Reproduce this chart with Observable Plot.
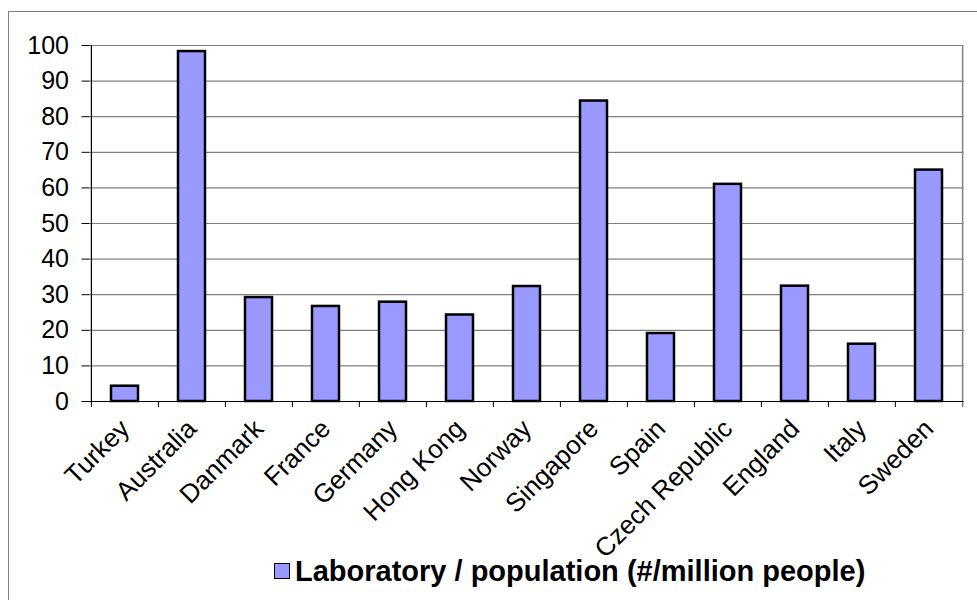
<!DOCTYPE html>
<html>
<head>
<meta charset="utf-8">
<script src="https://cdn.jsdelivr.net/npm/d3@7"></script>
<script src="https://cdn.jsdelivr.net/npm/@observablehq/plot@0.6"></script>
<style>
  html, body { margin: 0; padding: 0; background: #fff; width: 977px; height: 600px; overflow: hidden; }
  #frame { position: absolute; left: 8px; top: 11px; width: 1100px; height: 700px;
           border-left: 1px solid #7f7f7f; border-top: 1px solid #7f7f7f; }
  #chart { position: absolute; left: 0; top: 0; }
  #legend { position: absolute; left: 274px; top: 555px; height: 32px;
            font-family: "Liberation Sans", Arial, sans-serif; font-weight: bold; font-size: 29px;
            display: flex; align-items: center; color: #000; white-space: nowrap; }
  #legend .sw { width: 14px; height: 14px; background: #9999ff; border: 1.5px solid #000; margin-right: 5px; }
</style>
</head>
<body>
<div id="frame"></div>
<div id="chart"></div>
<div id="legend"><span class="sw"></span><span>Laboratory / population (#/million people)</span></div>
<script>
const categories = ["Turkey","Australia","Danmark","France","Germany","Hong Kong","Norway","Singapore","Spain","Czech Republic","England","Italy","Sweden"];
const values = [4.3, 98.3, 29.2, 26.7, 27.9, 24.3, 32.3, 84.4, 19.1, 61.0, 32.4, 16.1, 65.0];
const yTicks = [0, 10, 20, 30, 40, 50, 60, 70, 80, 90, 100];
const seriesName = "Laboratory / population (#/million people)";

const data = categories.map((c, i) => ({country: c, value: values[i]}));

const W = 977, H = 545;
const mL = 89.5, mR = 13.5, mT = 45, mB = 144;
const step = (W - mL - mR) / categories.length;
const tickDown = 6 / ((H - mT - mB) / 100);

const chart = Plot.plot({
  width: W,
  height: H,
  marginLeft: mL,
  marginRight: mR,
  marginTop: mT,
  marginBottom: mB,
  style: {background: "transparent", fontFamily: "'Liberation Sans', Arial, sans-serif", overflow: "visible", color: "#000"},
  x: {domain: categories, paddingInner: 0.6, paddingOuter: 0.3, label: null},
  y: {domain: [0, 100], label: null},
  marks: [
    Plot.ruleY(yTicks, {y: d => d, stroke: "#808080", strokeWidth: 1.2}),
    Plot.ruleX([categories[categories.length - 1]], {x: d => d, dx: step / 2, y1: -tickDown, y2: 100, stroke: "#808080", strokeWidth: 1.5}),
    Plot.barY(data, {x: "country", y: "value", fill: "#9999ff", stroke: "#000", strokeWidth: 2.5}),
    Plot.ruleX(categories, {x: d => d, dx: -step / 2, y1: -tickDown, y2: 0, stroke: "#000", strokeWidth: 1}),
    Plot.ruleY([0], {stroke: "#000", strokeWidth: 1.2}),
    Plot.ruleX([categories[0]], {x: d => d, dx: -step / 2, y1: 0, y2: 100, stroke: "#000", strokeWidth: 1.2}),
    Plot.axisY({ticks: yTicks, tickSize: 8, tickPadding: 13, fontSize: 25, stroke: "#000", tickFormat: d => String(d)}),
    Plot.axisX({tickSize: 0, tickRotate: -45, tickPadding: 23, fontSize: 26, label: null})
  ]
});
document.getElementById("chart").appendChild(chart);
</script>
</body>
</html>
